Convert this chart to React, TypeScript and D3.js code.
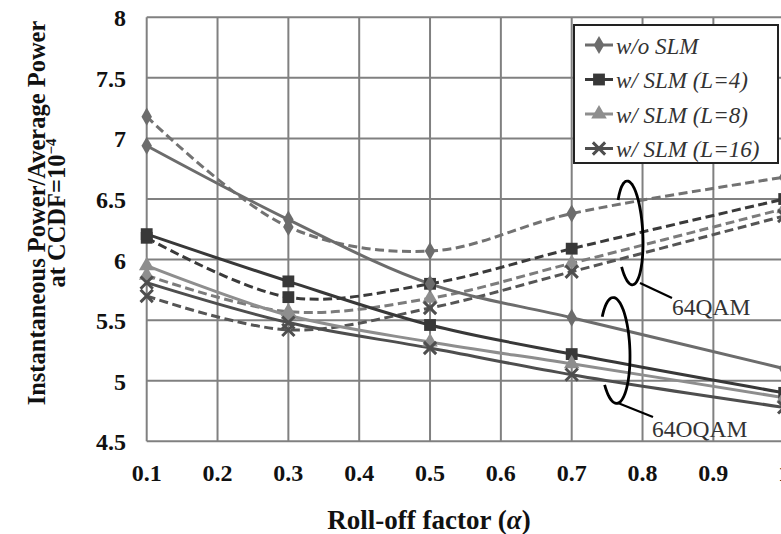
import React, { useEffect, useRef } from 'react';
import * as d3 from 'd3';

// roll-off factors where the curves were sampled
const alpha = [0.1, 0.3, 0.5, 0.7, 1.0];
const xTicks = [0.1, 0.2, 0.3, 0.4, 0.5, 0.6, 0.7, 0.8, 0.9, 1.0];
const yTicks = [4.5, 5, 5.5, 6, 6.5, 7, 7.5, 8];

// 64QAM (dashed)
const qamWo = [7.18, 6.27, 6.07, 6.38, 6.68];
const qamL4 = [6.18, 5.69, 5.80, 6.09, 6.50];
const qamL8 = [5.87, 5.57, 5.68, 5.97, 6.42];
const qamL16 = [5.70, 5.42, 5.60, 5.90, 6.36];

// 64OQAM (solid)
const oqamWo = [6.94, 6.33, 5.80, 5.52, 5.10];
const oqamL4 = [6.21, 5.82, 5.46, 5.22, 4.90];
const oqamL8 = [5.95, 5.54, 5.32, 5.14, 4.86];
const oqamL16 = [5.81, 5.48, 5.27, 5.05, 4.78];

const legendLabels = ['w/o SLM', 'w/ SLM (L=4)', 'w/ SLM (L=8)', 'w/ SLM (L=16)'];

const width = 781;
const height = 534;

const App: React.FC = () => {
  const svgRef = useRef<SVGSVGElement>(null);

  useEffect(() => {
    if (!svgRef.current) return;
    const svg = d3.select(svgRef.current);
    svg.selectAll('*').remove();

    const x = d3.scaleLinear().domain([0.1, 1.0]).range([146.7, 784.2]);
    const y = d3.scaleLinear().domain([4.5, 8]).range([441.3, 17.3]);
    const serif = '"Liberation Serif", "Times New Roman", serif';
    const grid = '#808080';

    const styles = [
      { color: '#6c6c6c', dashColor: '#727272', marker: 'diamond' },
      { color: '#383838', dashColor: '#3a3a3a', marker: 'square' },
      { color: '#8e8e8e', dashColor: '#7c7c7c', marker: 'triangle' },
      { color: '#4e4e4e', dashColor: '#555555', marker: 'x' },
    ];

    // grid
    svg.append('g').selectAll('line').data(xTicks).enter().append('line')
      .attr('x1', d => x(d)).attr('x2', d => x(d)).attr('y1', y(8)).attr('y2', y(4.5))
      .attr('stroke', grid).attr('stroke-width', 2);
    svg.append('g').selectAll('line').data(yTicks).enter().append('line')
      .attr('x1', x(0.1)).attr('x2', x(1.0)).attr('y1', d => y(d)).attr('y2', d => y(d))
      .attr('stroke', grid).attr('stroke-width', 2);

    // tick labels
    svg.append('g').selectAll('text').data(yTicks).enter().append('text')
      .attr('x', 126).attr('y', d => y(d) + 1).attr('text-anchor', 'end').attr('dominant-baseline', 'central')
      .style('font-family', serif).style('font-weight', 'bold').style('font-size', '24px').attr('fill', '#111')
      .text(d => d.toString());
    svg.append('g').selectAll('text').data(xTicks).enter().append('text')
      .attr('x', d => x(d)).attr('y', 481).attr('text-anchor', 'middle')
      .style('font-family', serif).style('font-weight', 'bold').style('font-size', '24px').attr('fill', '#111')
      .text(d => d === 1 ? '1' : d.toString());

    // axis titles
    const xt = svg.append('text').attr('x', 429).attr('y', 529).attr('text-anchor', 'middle')
      .style('font-family', serif).style('font-weight', 'bold').style('font-size', '27px').attr('fill', '#111');
    xt.append('tspan').text('Roll-off  factor (');
    xt.append('tspan').style('font-style', 'italic').text('α');
    xt.append('tspan').text(')');

    const yt = svg.append('g').attr('transform', 'translate(0,213) rotate(-90)');
    yt.append('text').attr('x', 0).attr('y', 45).attr('text-anchor', 'middle')
      .style('font-family', serif).style('font-weight', 'bold').style('font-size', '24.5px').attr('fill', '#111')
      .text('Instantaneous Power/Average Power');
    const yt2 = yt.append('text').attr('x', 0).attr('y', 65).attr('text-anchor', 'middle')
      .style('font-family', serif).style('font-weight', 'bold').style('font-size', '24.5px').attr('fill', '#111');
    yt2.append('tspan').text('at CCDF=10');
    yt2.append('tspan').attr('dy', -9).style('font-size', '15px').text('−4');

    const drawMarker = (g: any, kind: string, cx: number, cy: number, color: string) => {
      if (kind === 'diamond') {
        g.append('path').attr('d', d3.symbol(d3.symbolDiamond, 95)()).attr('transform', `translate(${cx},${cy})`).attr('fill', color);
      } else if (kind === 'square') {
        g.append('path').attr('d', d3.symbol(d3.symbolSquare, 140)()).attr('transform', `translate(${cx},${cy})`).attr('fill', color);
      } else if (kind === 'triangle') {
        g.append('path').attr('d', d3.symbol(d3.symbolTriangle, 105)()).attr('transform', `translate(${cx},${cy})`).attr('fill', color);
      } else {
        g.append('path').attr('d', d3.symbol(d3.symbolTimes, 100)()).attr('transform', `translate(${cx},${cy})`)
          .attr('fill', 'none').attr('stroke', color).attr('stroke-width', 3);
      }
    };

    const line = d3.line<number>().x((_, i) => x(alpha[i])).y(d => y(d)).curve(d3.curveCatmullRom.alpha(0.5));

    const dashed = [qamWo, qamL4, qamL8, qamL16];
    const solid = [oqamWo, oqamL4, oqamL8, oqamL16];
    const plot = svg.append('g');

    dashed.forEach((vals, k) => {
      plot.append('path').datum(vals).attr('d', line).attr('fill', 'none')
        .attr('stroke', styles[k].dashColor).attr('stroke-width', 3).attr('stroke-dasharray', '9,4.5');
    });
    solid.forEach((vals, k) => {
      plot.append('path').datum(vals).attr('d', line).attr('fill', 'none')
        .attr('stroke', styles[k].color).attr('stroke-width', 3);
    });
    [...dashed.map((v, k) => ({ v, k })), ...solid.map((v, k) => ({ v, k }))].forEach(({ v, k }) => {
      v.forEach((d, i) => drawMarker(plot, styles[k].marker, x(alpha[i]), y(d), styles[k].color));
    });

    // annotations: ellipse brackets
    const bracket = (ca: number, cv: number, rx: number, ry: number, rot: number, from: [number, number], to: [number, number], label: string, lx: number, ly: number) => {
      const cx = x(ca), cy = y(cv);
      const pts = d3.range(-140, 141, 5).map(t => [rx * Math.cos(t * Math.PI / 180), ry * Math.sin(t * Math.PI / 180)] as [number, number]);
      const g = svg.append('g');
      g.append('path').attr('d', d3.line().curve(d3.curveBasis)(pts))
        .attr('transform', `translate(${cx},${cy}) rotate(${rot})`)
        .attr('fill', 'none').attr('stroke', '#000').attr('stroke-width', 2.8);
      g.append('line').attr('x1', from[0]).attr('y1', from[1]).attr('x2', to[0]).attr('y2', to[1])
        .attr('stroke', '#000').attr('stroke-width', 2.2);
      g.append('text').attr('x', lx).attr('y', ly)
        .style('font-family', serif).style('font-size', '23.5px').attr('fill', '#333').text(label);
    };
    bracket(0.782, 6.22, 13, 52, -3, [640, 283], [672, 298], '64QAM', 672, 315);
    bracket(0.761, 5.25, 15, 53, -2, [618, 403], [653, 417], '64OQAM', 652, 437);

    // legend
    const lg = svg.append('g');
    lg.append('rect').attr('x', 574).attr('y', 25).attr('width', 204).attr('height', 138)
      .attr('fill', '#fff').attr('stroke', '#222').attr('stroke-width', 2);
    legendLabels.forEach((lab, k) => {
      const cy = 45 + k * 34.5;
      lg.append('line').attr('x1', 585).attr('x2', 613).attr('y1', cy).attr('y2', cy)
        .attr('stroke', styles[k].color).attr('stroke-width', 3);
      drawMarker(lg, styles[k].marker, 599, cy, styles[k].color);
      lg.append('text').attr('x', 616).attr('y', cy + 1).attr('dominant-baseline', 'central')
        .style('font-family', serif).style('font-style', 'italic').style('font-size', '23px').attr('fill', '#333')
        .text(lab);
    });
  }, []);

  return (
    <svg ref={svgRef} width={width} height={height} viewBox={`0 0 ${width} ${height}`}
      style={{ position: 'absolute', left: 0, top: 0, background: '#fff' }} />
  );
};

export default App;
